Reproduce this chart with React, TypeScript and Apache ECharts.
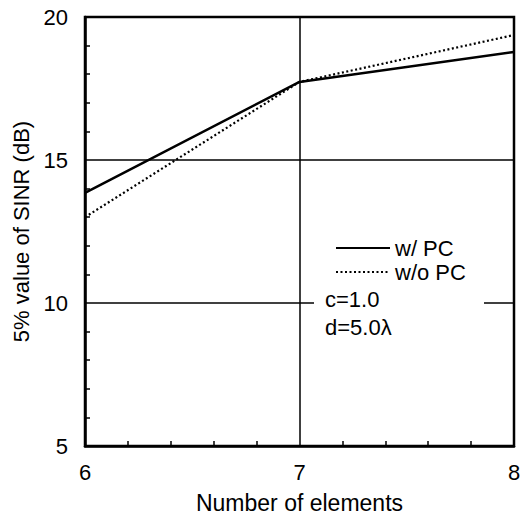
import React, { useEffect, useRef } from "react";
import * as echarts from "echarts";

const elements = [6, 7, 8];
const withPC = [13.85, 17.73, 18.78];
const withoutPC = [13.0, 17.73, 19.37];
const seriesNames = ["w/ PC", "w/o PC"];
const annotations = ["c=1.0", "d=5.0λ"];

const FONT = "'Liberation Sans', Arial, Helvetica, sans-serif";

export default function App() {
  const ref = useRef<HTMLDivElement>(null);
  useEffect(() => {
    if (!ref.current) return;
    const chart = echarts.init(ref.current, undefined, { renderer: "svg" });
    chart.setOption({
      animation: false,
      backgroundColor: "#fff",
      grid: {
        left: 85,
        right: 16,
        top: 17,
        bottom: 74,
        show: true,
        borderColor: "#000",
        borderWidth: 2.5,
      },
      legend: {
        orient: "vertical",
        left: 330,
        top: 232,
        z: 20,
        itemWidth: 54,
        itemHeight: 14,
        itemGap: 2,
        selectedMode: false,
        itemStyle: { opacity: 0 },
        textStyle: { fontFamily: FONT, fontSize: 22, color: "#000", padding: [0, 0, 0, 0] },
        data: seriesNames,
      },
      xAxis: {
        type: "value",
        min: 6,
        max: 8,
        interval: 1,
        name: "Number of elements",
        nameLocation: "middle",
        nameGap: 45,
        nameTextStyle: { fontFamily: FONT, fontSize: 23, color: "#000" },
        axisLine: { show: true, lineStyle: { color: "#000", width: 2.5 } },
        axisTick: { show: false, inside: true },
        minorTick: { show: true, splitNumber: 5, length: 5, lineStyle: { color: "#000", width: 1.5 } },
        axisLabel: { fontFamily: FONT, fontSize: 22, color: "#000", margin: 15 },
        splitLine: { show: true, lineStyle: { color: "#000", width: 1.5 } },
      },
      yAxis: {
        type: "value",
        min: 5,
        max: 20,
        interval: 5,
        name: "5% value of SINR (dB)",
        nameLocation: "middle",
        nameGap: 47,
        nameTextStyle: { fontFamily: FONT, fontSize: 22, color: "#000" },
        axisLine: { show: true, lineStyle: { color: "#000", width: 2.5 } },
        axisTick: { show: false, inside: true },
        minorTick: { show: true, splitNumber: 5, length: 5, lineStyle: { color: "#000", width: 1.5 } },
        axisLabel: { fontFamily: FONT, fontSize: 22, color: "#000", margin: 17 },
        splitLine: { show: true, lineStyle: { color: "#000", width: 1.5 } },
      },
      graphic: [
        {
          type: "rect",
          z: 5,
          shape: { x: 314, y: 225, width: 170, height: 118 },
          style: { fill: "#fff" },
        },
        ...annotations.map((t, i) => ({
          type: "text",
          z: 6,
          left: 325,
          top: 288 + i * 28,
          style: { text: t, fontFamily: FONT, fontSize: 22, fill: "#000" },
        })),
      ],
      series: [
        {
          name: seriesNames[0],
          type: "line",
          symbol: "none",
          z: 10,
          lineStyle: { color: "#000", width: 2.5, type: "solid" },
          itemStyle: { color: "#000" },
          data: elements.map((x, i) => [x, withPC[i]]),
        },
        {
          name: seriesNames[1],
          type: "line",
          symbol: "none",
          z: 10,
          lineStyle: { color: "#000", width: 2.2, type: [2, 2.5] },
          itemStyle: { color: "#000" },
          data: elements.map((x, i) => [x, withoutPC[i]]),
        },
      ],
    });
    return () => chart.dispose();
  }, []);
  return (
    <div
      ref={ref}
      style={{ position: "fixed", left: 0, top: 0, width: 530, height: 520, background: "#fff" }}
    />
  );
}
